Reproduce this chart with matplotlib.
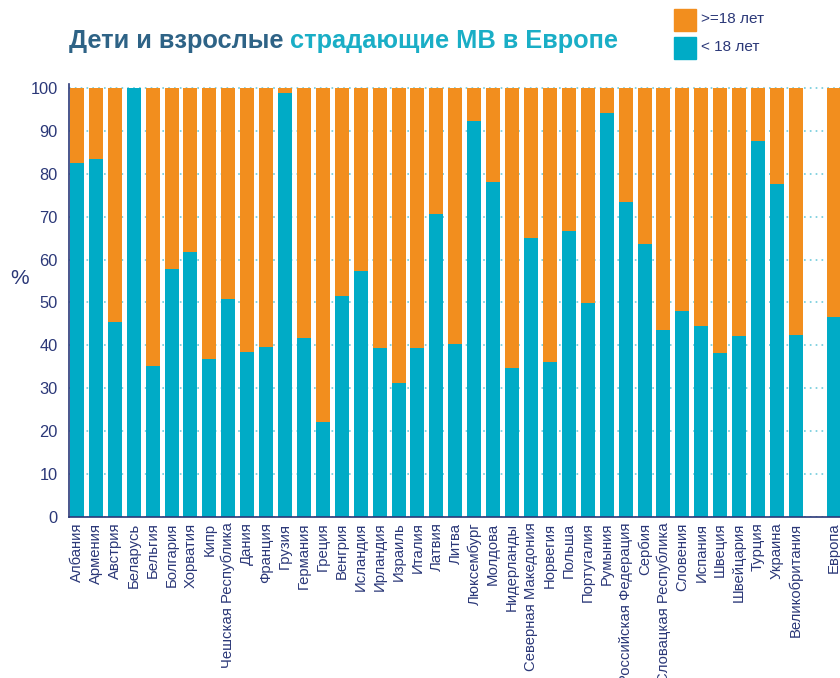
import matplotlib.pyplot as plt
import numpy as np

plt.rcParams['font.family'] = ['Liberation Sans', 'DejaVu Sans']

countries = ["Албания", "Армения", "Австрия", "Беларусь", "Бельгия", "Болгария",
             "Хорватия", "Кипр", "Чешская Республика", "Дания", "Франция", "Грузия",
             "Германия", "Греция", "Венгрия", "Исландия", "Ирландия", "Израиль",
             "Италия", "Латвия", "Литва", "Люксембург", "Молдова", "Нидерланды",
             "Северная Македония", "Норвегия", "Польша", "Португалия", "Румыния",
             "Российская Федерация", "Сербия", "Словацкая Республика", "Словения",
             "Испания", "Швеция", "Швейцария", "Турция", "Украина", "Великобритания"]

# доля < 18 лет, %
under18 = [82.5, 83.4, 45.5, 100.0, 35.2, 57.8, 61.8, 36.8, 50.8, 38.5, 39.6, 98.8,
           41.8, 22.2, 51.5, 57.3, 39.5, 31.2, 39.5, 70.7, 40.4, 92.3, 78.2, 34.8,
           65.1, 36.2, 66.7, 49.9, 94.2, 73.5, 63.7, 43.7, 48.0, 44.6, 38.2, 42.3,
           87.6, 77.7, 42.4]
europe_label = "Европа"
europe_under18 = 46.6

navy = "#2B3878"
orange = "#F28E1E"
teal = "#00ABC6"

labels = countries + [europe_label]
young = np.array(under18 + [europe_under18])
adult = 100 - young
x = np.append(np.arange(len(countries)), len(countries) + 1)

fig = plt.figure(figsize=(8.4, 6.78), dpi=100)
ax = fig.add_axes([0.0821, 0.2375, 0.9179, 0.639])

ax.bar(x, young, width=0.74, color=teal, zorder=2)
ax.bar(x, adult, width=0.74, bottom=young, color=orange, zorder=2)

ax.set_xlim(-0.42, 40.33)
ax.set_ylim(0, 101)
ax.set_yticks(np.arange(0, 101, 10))
ax.set_xticks(x)
ax.set_xticklabels(labels, rotation=90, fontsize=10.7, color=navy)
ax.tick_params(axis='y', labelsize=11.8, labelcolor=navy, length=0, pad=8)
ax.tick_params(axis='x', length=0, pad=4)

ax.yaxis.grid(True, color="#6FCBDB", linestyle=(0, (1, 2.5)), linewidth=1.2)
ax.set_axisbelow(True)
for s in ["top", "right"]:
    ax.spines[s].set_visible(False)
for s in ["left", "bottom"]:
    ax.spines[s].set_color(navy)
    ax.spines[s].set_linewidth(1.2)

fig.text(20 / 840, 1 - 279 / 678, "%", fontsize=15, color=navy, ha='center', va='center')

# заголовок из двух цветов
t1 = fig.text(69 / 840, 1 - 48 / 678, "Дети и взрослые ", fontsize=18.3, fontweight='bold',
              color="#2E6386", va='baseline')
fig.canvas.draw()
bb = t1.get_window_extent()
fig.text(bb.x1 / 840, 1 - 48 / 678, "страдающие МВ в Европе", fontsize=18.3,
         fontweight='bold', color="#1AAEC6", va='baseline')

# легенда
fig.patches.append(plt.Rectangle((674 / 840, 1 - 31 / 678), 22 / 840, 22 / 678,
                                 color=orange, transform=fig.transFigure))
fig.patches.append(plt.Rectangle((674 / 840, 1 - 59 / 678), 22 / 840, 22 / 678,
                                 color=teal, transform=fig.transFigure))
fig.text(701 / 840, 1 - 19 / 678, ">=18 лет", fontsize=11, color=navy, va='center')
fig.text(701 / 840, 1 - 47 / 678, "< 18 лет", fontsize=11, color=navy, va='center')

fig.savefig("out.png", dpi=100)
